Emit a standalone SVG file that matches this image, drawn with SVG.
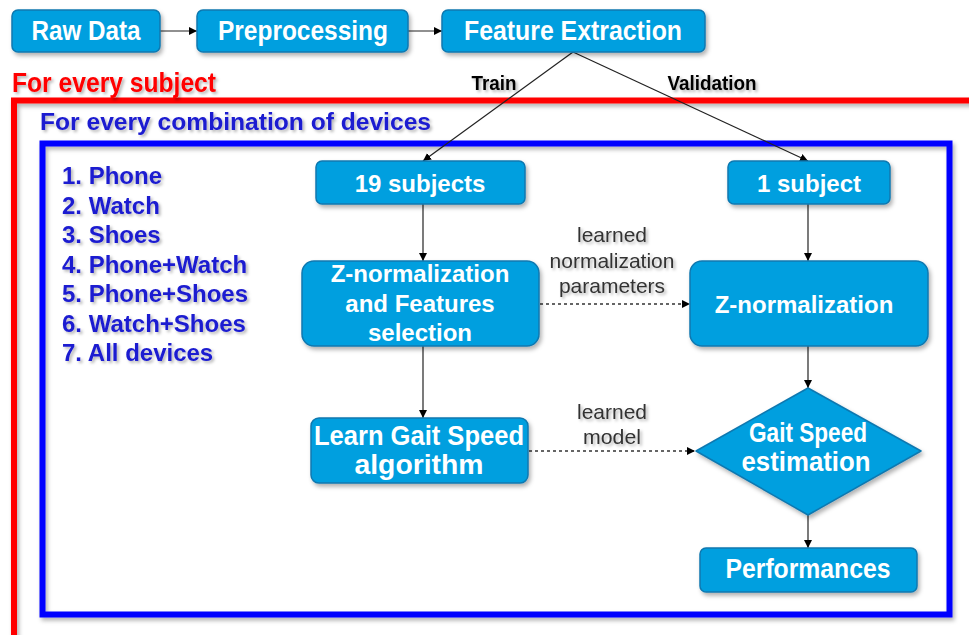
<svg xmlns="http://www.w3.org/2000/svg" width="969" height="635" viewBox="0 0 969 635">
<defs>
<filter id="sh" x="-10%" y="-10%" width="130%" height="140%">
<feDropShadow dx="2" dy="3" stdDeviation="2" flood-color="#000" flood-opacity="0.3"/>
</filter>
<filter id="tsh" x="-5%" y="-20%" width="115%" height="150%">
<feDropShadow dx="2" dy="2" stdDeviation="1.5" flood-color="#000" flood-opacity="0.3"/>
</filter>
<marker id="ah" viewBox="0 0 10 10" refX="10" refY="5" markerWidth="8" markerHeight="8" markerUnits="userSpaceOnUse" orient="auto">
<path d="M0,0 L10,5 L0,10 z" fill="#000"/>
</marker>
<style>
.box{fill:#019fdf;stroke:#0d78b0;stroke-width:1.5;filter:url(#sh)}
.bt{font-family:"Liberation Sans",Arial,sans-serif;font-weight:bold;fill:#fff;text-anchor:middle;font-size:24px}
.nt{font-family:"Liberation Sans",Arial,sans-serif;font-weight:bold;fill:#fff;text-anchor:middle;font-size:27px}
.lbl{font-family:"Liberation Sans",Arial,sans-serif;fill:#333;text-anchor:middle;font-size:21px;filter:url(#tsh)}
.lst{font-family:"Liberation Sans",Arial,sans-serif;font-weight:bold;fill:#1a1ad0;font-size:24px;filter:url(#tsh)}
.ln{stroke:#222;stroke-width:1.2;fill:none;marker-end:url(#ah)}
.dash{stroke:#333;stroke-width:1.3;fill:none;stroke-dasharray:3,3;marker-end:url(#ah)}
</style>
</defs>
<rect width="969" height="635" fill="#fff"/>

<g id="frames">
<rect x="14" y="100.5" width="965" height="545" fill="none" stroke="#f00" stroke-width="6" filter="url(#sh)"/>
<rect x="42.5" y="143.5" width="907" height="471" fill="none" stroke="#00f" stroke-width="6" filter="url(#sh)"/>
<text x="12" y="92" font-family="'Liberation Sans',Arial,sans-serif" font-weight="bold" font-size="28" fill="#f00" textLength="204" lengthAdjust="spacingAndGlyphs" filter="url(#tsh)">For every subject</text>
<text x="40" y="130" font-family="'Liberation Sans',Arial,sans-serif" font-weight="bold" font-size="23" fill="#1a1ad0" textLength="391" lengthAdjust="spacingAndGlyphs" filter="url(#tsh)">For every combination of devices</text>
</g>

<g id="devices">
<text class="lst" x="62" y="184">1. Phone</text>
<text class="lst" x="62" y="214">2. Watch</text>
<text class="lst" x="62" y="243">3. Shoes</text>
<text class="lst" x="62" y="273">4. Phone+Watch</text>
<text class="lst" x="62" y="302">5. Phone+Shoes</text>
<text class="lst" x="62" y="332">6. Watch+Shoes</text>
<text class="lst" x="62" y="361">7. All devices</text>
</g>

<g id="connectors">
<line class="ln" x1="160" y1="31" x2="197" y2="31"/>
<line class="ln" x1="408" y1="31" x2="442" y2="31"/>
<line class="ln" x1="573" y1="52" x2="423" y2="161"/>
<line class="ln" x1="573" y1="52" x2="808" y2="161"/>
<line class="ln" x1="423" y1="204" x2="423" y2="261"/>
<line class="ln" x1="423" y1="346" x2="423" y2="418"/>
<line class="ln" x1="808" y1="204" x2="808" y2="261"/>
<line class="ln" x1="808" y1="346" x2="808" y2="388"/>
<line class="ln" x1="808" y1="515" x2="808" y2="548"/>
<line class="dash" x1="540" y1="304" x2="690" y2="304"/>
<line class="dash" x1="529" y1="451" x2="695" y2="451"/>
<text x="494" y="90" font-family="'Liberation Sans',Arial,sans-serif" font-weight="bold" font-size="20" fill="#000" text-anchor="middle" textLength="45" lengthAdjust="spacingAndGlyphs" filter="url(#tsh)">Train</text>
<text x="712" y="90" font-family="'Liberation Sans',Arial,sans-serif" font-weight="bold" font-size="20" fill="#000" text-anchor="middle" textLength="89" lengthAdjust="spacingAndGlyphs" filter="url(#tsh)">Validation</text>
<text class="lbl" x="612" y="242">learned</text>
<text class="lbl" x="612" y="268">normalization</text>
<text class="lbl" x="612" y="293">parameters</text>
<text class="lbl" x="612" y="419" font-size="23" textLength="70" lengthAdjust="spacingAndGlyphs">learned</text>
<text class="lbl" x="612" y="444" font-size="23" textLength="58" lengthAdjust="spacingAndGlyphs">model</text>
</g>

<g id="raw-data">
<rect class="box" x="12" y="10" width="148" height="42" rx="6"/>
<text class="nt" x="86" y="40" textLength="109" lengthAdjust="spacingAndGlyphs">Raw Data</text>
</g>
<g id="preprocessing">
<rect class="box" x="197" y="10" width="211" height="42" rx="6"/>
<text class="nt" x="303" y="40" textLength="170" lengthAdjust="spacingAndGlyphs">Preprocessing</text>
</g>
<g id="feature-extraction">
<rect class="box" x="442" y="10" width="263" height="42" rx="6"/>
<text class="nt" x="573" y="40" textLength="218" lengthAdjust="spacingAndGlyphs">Feature Extraction</text>
</g>
<g id="train-subjects">
<rect class="box" x="316" y="161" width="209" height="43" rx="6"/>
<text class="bt" x="420" y="192">19 subjects</text>
</g>
<g id="val-subject">
<rect class="box" x="728" y="161" width="162" height="43" rx="6"/>
<text class="bt" x="809" y="192">1 subject</text>
</g>
<g id="znorm-train">
<rect class="box" x="302" y="261" width="237" height="85" rx="12"/>
<text class="bt" x="420" y="282">Z-normalization</text>
<text class="bt" x="420" y="312">and Features</text>
<text class="bt" x="420" y="341">selection</text>
</g>
<g id="znorm-val">
<rect class="box" x="690" y="261" width="238" height="85" rx="12"/>
<text class="bt" x="804" y="313">Z-normalization</text>
</g>
<g id="learn">
<rect class="box" x="311" y="418" width="217" height="65" rx="8"/>
<text class="nt" x="419" y="445" textLength="210" lengthAdjust="spacingAndGlyphs">Learn Gait Speed</text>
<text class="nt" x="419" y="474" textLength="129" lengthAdjust="spacingAndGlyphs">algorithm</text>
</g>
<g id="estimation">
<path class="box" d="M808,388 L921,451 L808,515 L696,451 Z" stroke-linejoin="round"/>
<text class="nt" x="808" y="442" textLength="118" lengthAdjust="spacingAndGlyphs">Gait Speed</text>
<text class="nt" x="806" y="471" textLength="129" lengthAdjust="spacingAndGlyphs">estimation</text>
</g>
<g id="performances">
<rect class="box" x="700" y="548" width="217" height="44" rx="6"/>
<text class="nt" x="808" y="578" textLength="165" lengthAdjust="spacingAndGlyphs">Performances</text>
</g>
</svg>
